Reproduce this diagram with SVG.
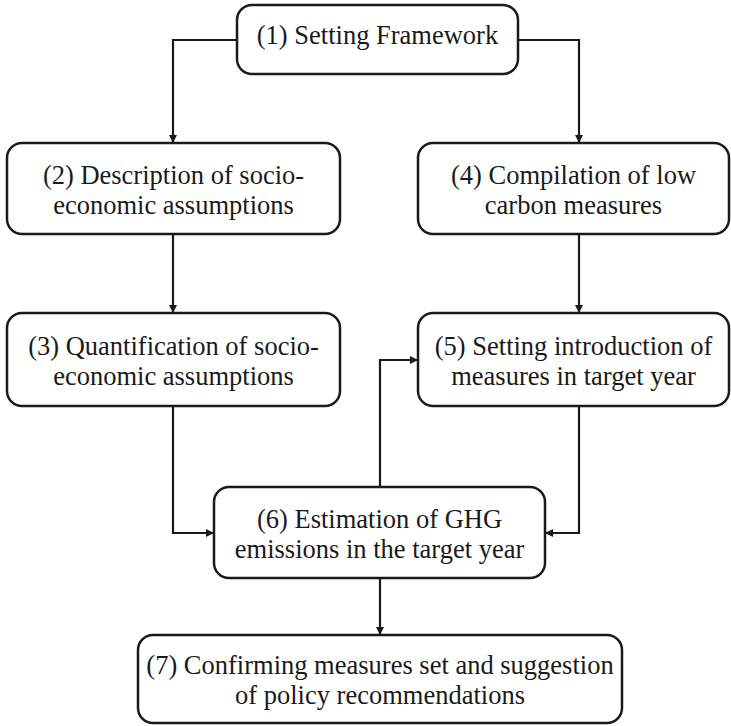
<svg xmlns="http://www.w3.org/2000/svg" width="731" height="726" viewBox="0 0 731 726">
<defs>
<marker id="ah" viewBox="0 0 10 10" refX="10" refY="5" markerWidth="8" markerHeight="8" markerUnits="userSpaceOnUse" orient="auto">
<path d="M0,0 L10,5 L0,10 Z" fill="#1a1a1a"/>
</marker>
</defs>
<style>
.box{fill:#ffffff;stroke:#1a1a1a;stroke-width:2.5}
.lbl{font-family:"Liberation Serif","Times New Roman",serif;font-size:26.5px;fill:#1a1a1a;text-anchor:middle}
.con{fill:none;stroke:#1a1a1a;stroke-width:2.2;marker-end:url(#ah)}
</style>
<rect width="731" height="726" fill="#ffffff"/>
<g id="connectors">
<path class="con" d="M237,40 H173 V143"/>
<path class="con" d="M518,40 H579 V143"/>
<path class="con" d="M173,234 V313"/>
<path class="con" d="M579,234 V313"/>
<path class="con" d="M173,406 V533 H214"/>
<path class="con" d="M579,406 V533 H545"/>
<path class="con" d="M380,487 V360 H418"/>
<path class="con" d="M380,578 V635"/>
</g>
<g id="node1">
<rect class="box" x="237" y="5" width="281" height="69" rx="15"/>
<text class="lbl" x="377.5" y="44">(1) Setting Framework</text>
</g>
<g id="node2">
<rect class="box" x="7" y="143" width="333" height="91" rx="15"/>
<text class="lbl" x="173.5" y="183.5">(2) Description of socio-</text>
<text class="lbl" x="173.5" y="213.5">economic assumptions</text>
</g>
<g id="node3">
<rect class="box" x="7" y="313" width="333" height="93" rx="15"/>
<text class="lbl" x="173.5" y="354.5">(3) Quantification of socio-</text>
<text class="lbl" x="173.5" y="384.5">economic assumptions</text>
</g>
<g id="node4">
<rect class="box" x="418" y="143" width="311" height="91" rx="15"/>
<text class="lbl" x="573.5" y="183.5">(4) Compilation of low</text>
<text class="lbl" x="573.5" y="213.5">carbon measures</text>
</g>
<g id="node5">
<rect class="box" x="418" y="313" width="311" height="93" rx="15"/>
<text class="lbl" x="573.5" y="354.5">(5) Setting introduction of</text>
<text class="lbl" x="573.5" y="384.5">measures in target year</text>
</g>
<g id="node6">
<rect class="box" x="214" y="487" width="331" height="91" rx="15"/>
<text class="lbl" x="379.5" y="528">(6) Estimation of GHG</text>
<text class="lbl" x="379.5" y="557.5">emissions in the target year</text>
</g>
<g id="node7">
<rect class="box" x="138" y="635" width="484" height="88" rx="15"/>
<text class="lbl" x="380" y="674">(7) Confirming measures set and suggestion</text>
<text class="lbl" x="380" y="704">of policy recommendations</text>
</g>
</svg>
